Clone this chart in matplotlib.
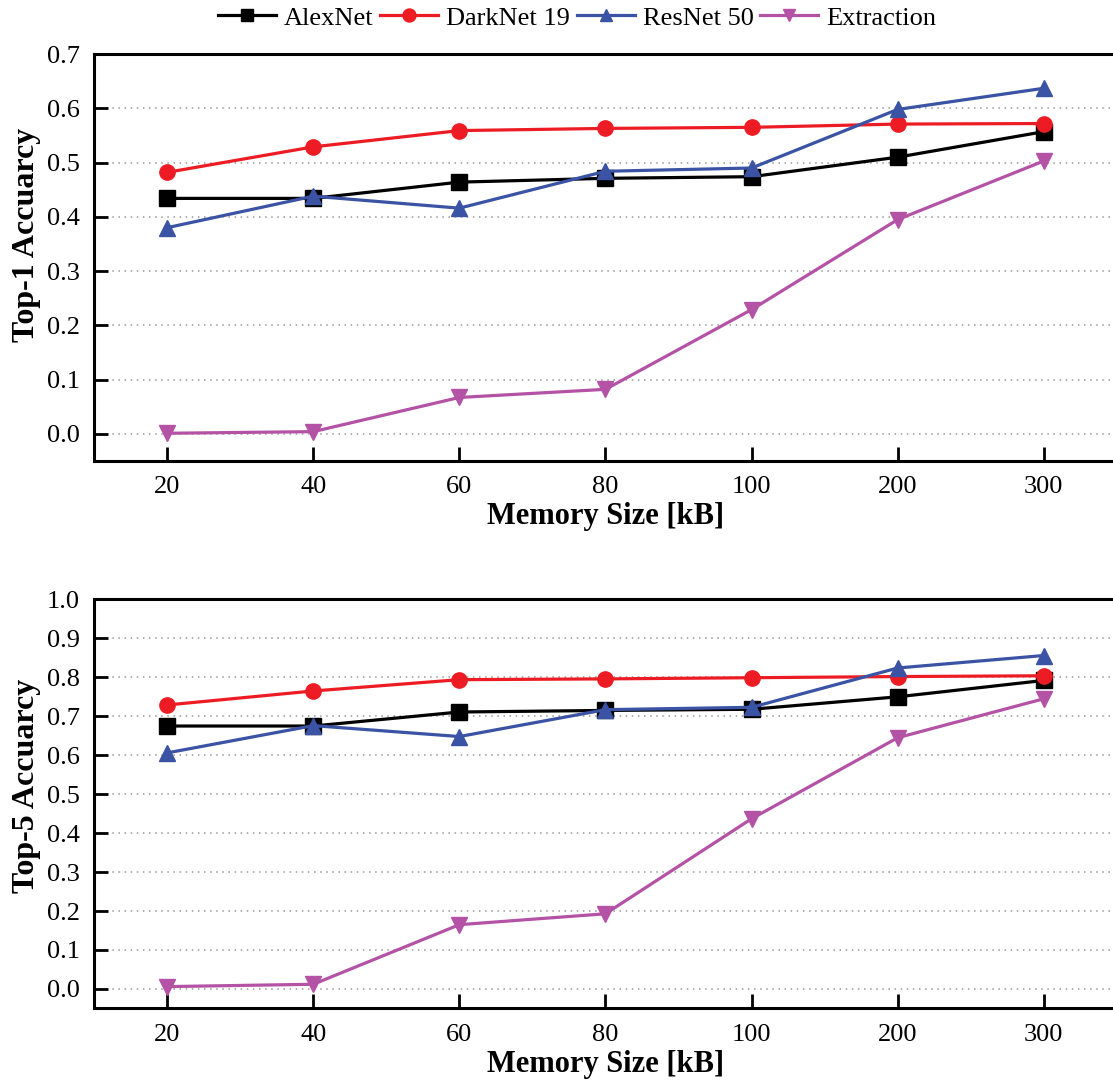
import numpy as np
import matplotlib
matplotlib.use("Agg")
import matplotlib.pyplot as plt

plt.rcParams["font.family"] = ["Liberation Serif", "DejaVu Serif"]

memory_sizes = ["20", "40", "60", "80", "100", "200", "300"]
models = ["AlexNet", "DarkNet 19", "ResNet 50", "Extraction"]

top1_alexnet = [0.434, 0.434, 0.464, 0.471, 0.474, 0.510, 0.557]
top1_darknet = [0.482, 0.529, 0.559, 0.563, 0.565, 0.571, 0.572]
top1_resnet = [0.380, 0.438, 0.416, 0.484, 0.490, 0.598, 0.637]
top1_extraction = [0.001, 0.004, 0.067, 0.082, 0.229, 0.395, 0.503]

top5_alexnet = [0.675, 0.675, 0.711, 0.715, 0.718, 0.750, 0.792]
top5_darknet = [0.729, 0.765, 0.794, 0.796, 0.799, 0.802, 0.804]
top5_resnet = [0.606, 0.676, 0.648, 0.717, 0.723, 0.824, 0.856]
top5_extraction = [0.006, 0.012, 0.165, 0.193, 0.437, 0.645, 0.745]

colors = ["#000000", "#ED1C24", "#3A53A4", "#B452A5"]
markers = ["s", "o", "^", "v"]

fig = plt.figure(figsize=(11.13, 10.82), dpi=100)
ax1 = fig.add_axes([0.0845, 0.574, 0.919, 0.376])
ax2 = fig.add_axes([0.0845, 0.068, 0.919, 0.378])

x = np.arange(len(memory_sizes))
panels = [
    (ax1, [top1_alexnet, top1_darknet, top1_resnet, top1_extraction], "Top-1 Accuarcy", 0.7, 0.555),
    (ax2, [top5_alexnet, top5_darknet, top5_resnet, top5_extraction], "Top-5 Accuarcy", 1.0, 0.545),
]

for ax, series, ylabel, ymax, ylab_y in panels:
    for vals, name, c, m in zip(series, models, colors, markers):
        ax.plot(x, vals, color=c, marker=m, markersize=11, linewidth=2.3, label=name, zorder=3)
    ax.set_xlim(-0.5, 6.5)
    ax.set_ylim(-0.05, ymax)
    ticks = np.arange(0, ymax + 0.01, 0.1)
    ax.set_yticks(ticks)
    ax.set_yticklabels([f"{v:.1f}" for v in ticks])
    ax.set_xticks(x)
    ax.set_xticklabels(memory_sizes)
    ax.yaxis.grid(True, linestyle=(0, (1, 3)), color="#999999", linewidth=1.1)
    ax.set_axisbelow(True)
    ax.tick_params(axis="both", direction="in", length=10, width=2, labelsize=19)
    ax.tick_params(axis="x", pad=11)
    ax.tick_params(axis="y", pad=10)
    for s in ax.spines.values():
        s.set_linewidth(2.2)
    ax.set_xlabel("Memory Size [kB]", fontsize=22, fontweight="bold", labelpad=3)
    ax.set_ylabel(ylabel, fontsize=23, fontweight="bold")
    ax.yaxis.set_label_coords(-0.052, ylab_y)

handles, labels = ax1.get_legend_handles_labels()
fig.legend(handles, labels, loc="center left", bbox_to_anchor=(205 / 1113, 1 - 18 / 1082), ncol=4,
           frameon=False, fontsize=19, handlelength=2.2, handletextpad=0.3, columnspacing=0.25,
           markerscale=0.85, borderpad=0.0)

fig.savefig("out.png", dpi=100)
